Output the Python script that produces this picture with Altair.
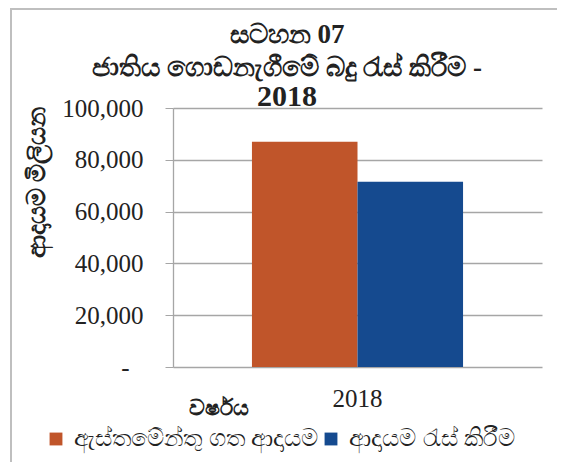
import altair as alt
import pandas as pd

years = ["2018"]
series = ["ඇස්තමේන්තු ගත ආදායම", "ආදායම රැස් කිරීම"]
values = [87000, 71500]
colors = ["#C0552A", "#154A8F"]
title_lines = ["සටහන 07", "ජාතිය ගොඩනැගීමේ බදු රැස් කිරීම -", "2018"]
y_title = "ආදායම මිලියන"
x_title = "වර්ෂය"

df = pd.DataFrame({"year": years * len(series), "series": series, "value": values})
one = pd.DataFrame({"k": [0]})

GRID = "#a6a6a6"
SERIF = "Liberation Serif"
INK = "#222222"

bars = alt.Chart(df).mark_bar().encode(
    x=alt.X("year:N",
            scale=alt.Scale(paddingInner=0, paddingOuter=0.374),
            axis=alt.Axis(title=x_title, labelAngle=0, ticks=False, domain=False,
                          labelFont=SERIF, labelFontSize=25, labelColor=INK,
                          labelPadding=19,
                          titleFontSize=22, titleFontWeight="bold", titleColor=INK,
                          titleX=45, titleY=40, titleAlign="center", titleBaseline="middle")),
    xOffset=alt.XOffset("series:N", sort=series, scale=alt.Scale(paddingInner=0, paddingOuter=0)),
    y=alt.Y("value:Q",
            scale=alt.Scale(domain=[0, 100000], nice=False),
            axis=alt.Axis(values=[0, 20000, 40000, 60000, 80000, 100000],
                          labelExpr="datum.value == 0 ? '-' : format(datum.value, ',')",
                          labelFont=SERIF, labelFontSize=25, labelColor=INK,
                          labelPadding={"condition": {"test": "datum.value == 0", "value": 36}, "value": 22},
                          tickSize=8, tickColor=GRID,
                          gridColor=GRID, gridWidth=1.3, domainColor=GRID, domainWidth=1.3,
                          title=y_title, titleFontSize=25, titleFontWeight="bold",
                          titleColor=INK, titleAngle=-90,
                          titleX=-137, titleY=74, titleAlign="center", titleBaseline="middle")),
    color=alt.Color("series:N", sort=series,
                    scale=alt.Scale(domain=series, range=colors),
                    legend=alt.Legend(title=None, orient="none", legendX=-129, legendY=319,
                                      direction="horizontal", columns=2,
                                      symbolType="square", symbolSize=165,
                                      symbolStrokeWidth=0, symbolOpacity=1,
                                      labelFontSize=24, labelColor=INK,
                                      labelOffset=6, columnPadding=0,
                                      labelLimit=300)),
)

def title_line(i, size, y):
    return alt.Chart(one).mark_text(
        font=SERIF, fontSize=size, fontWeight="bold", color=INK,
        align="center", baseline="alphabetic",
    ).encode(x=alt.value(114), y=alt.value(y), text=alt.value(title_lines[i]))

t1 = title_line(0, 27, -65)
t2 = title_line(1, 27, -32)
t3 = title_line(2, 30, -2)

frame_top = alt.Chart(one).mark_rule(color="#bfbfbf", strokeWidth=2, clip=False).encode(
    x=alt.value(-163), x2=alt.value(400), y=alt.value(-99)
)
frame_left = alt.Chart(one).mark_rule(color="#bfbfbf", strokeWidth=2, clip=False).encode(
    x=alt.value(-162), y=alt.value(-100), y2=alt.value(400)
)

chart = alt.layer(bars, t1, t2, t3, frame_top, frame_left).properties(
    width=369, height=259,
    autosize=alt.AutoSizeParams(type="none"),
    padding={"left": 165, "top": 100, "right": 15, "bottom": 95},
).configure_view(stroke=None)

chart.save("out.html", embed_options={"renderer": "svg", "actions": False})
